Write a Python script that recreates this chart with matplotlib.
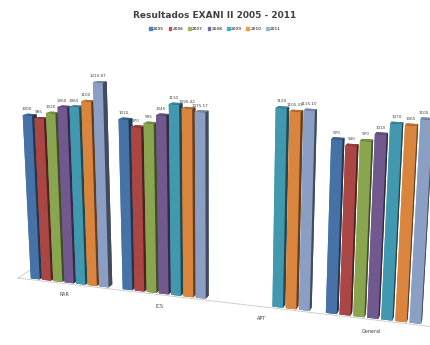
#! /usr/bin/env python3

import matplotlib
matplotlib.use("Agg")
import matplotlib.pyplot as plt
from matplotlib.patches import Patch
import numpy

"""
Datos.
"""

categorias = ["RAR", "ICS", "APT", "General"]
anios      = ["2005", "2006", "2007", "2008", "2009", "2010", "2011"]
colores    = ["#4F81BD", "#C0504D", "#9BBB59", "#8064A2",
              "#4BACC6", "#F79646", "#9DB4DE"]

# un valor por año, None si no hay dato
res_rar     = [1000, 985, 1020, 1060, 1065, 1100, 1210.87]
res_ics     = [1010, 970, 995, 1045, 1110, 1090.42, 1075.17]
res_apt     = [None, None, None, None, 1120, 1105.33, 1115.1]
res_general = [970, 940, 970, 1010, 1070, 1065, 1100.53]

resultados = [res_rar, res_ics, res_apt, res_general]

"""
Grafica.
"""

fig = plt.figure(figsize = (4.3, 3.45), dpi = 100)
ax = fig.add_axes([-0.20, -0.28, 1.36, 1.45], projection = "3d")
ax.set_proj_type("persp", focal_length = 0.35)
ax.view_init(elev = 14, azim = -72)

paso  = 8
ancho = 0.8

for g, valores in enumerate(resultados):
    for i, v in enumerate(valores):
        if v is None:
            continue
        x = g * paso + i
        ax.bar3d(x, 0, 0, ancho, ancho, v, color = colores[i],
                 shade = True, edgecolor = "none")
        etiqueta = f"{v:g}" if v % 1 == 0 else f"{v:.2f}"
        ax.text(x + ancho / 2, 0, v + 25, etiqueta, fontsize = 3.0,
                rotation = 90, ha = "center", va = "bottom", color = "#404040")
    ax.text(g * paso + 3.5, -1.2, -30, categorias[g], fontsize = 3.5,
            ha = "center", va = "top", color = "#404040")

# piso
xmax = len(categorias) * paso
ax.plot([-1, xmax], [-0.3, -0.3], [0, 0], color = "#C8C8C8", lw = 0.6)
ax.plot([-1, -1], [-0.3, 3], [0, 0], color = "#C8C8C8", lw = 0.6)

ax.set_xlim(-1, xmax - 1)
ax.set_ylim(-0.3, 3)
ax.set_zlim(0, 1300)
ax.set_box_aspect((6.5, 0.6, 3.5), zoom = 0.95)
ax.set_axis_off()

fig.text(0.5, 0.955, "Resultados EXANI II 2005 - 2011", ha = "center",
         va = "center", fontsize = 6.5, fontweight = "bold", color = "#404040")

parches = [Patch(color = c, label = a) for c, a in zip(colores, anios)]
fig.legend(handles = parches, loc = "center", bbox_to_anchor = (0.5, 0.915),
           ncol = 7, fontsize = 3.2, frameon = False, handlelength = 0.6,
           handleheight = 0.6, handletextpad = 0.3, columnspacing = 1.0)

fig.savefig("out.png", dpi = 100)
